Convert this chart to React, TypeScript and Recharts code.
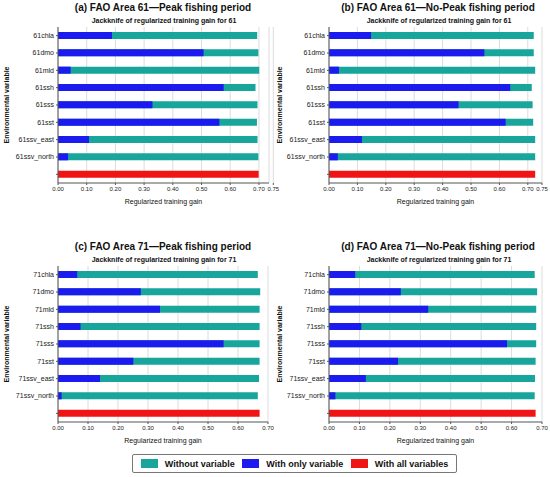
import React from 'react';
import { BarChart, Bar, XAxis, YAxis, CartesianGrid } from 'recharts';

/* ------------------------------------------------------------------ */
/*  Data                                */
/* ------------------------------------------------------------------ */

const VARS_61 = ['61chla', '61dmo', '61mld', '61ssh', '61sss', '61sst', '61ssv_east', '61ssv_north'];
const VARS_71 = ['71chla', '71dmo', '71mld', '71ssh', '71sss', '71sst', '71ssv_east', '71ssv_north'];

const A_WITHOUT = [0.694, 0.698, 0.701, 0.688, 0.695, 0.693, 0.695, 0.698];
const A_ONLY = [0.188, 0.507, 0.044, 0.577, 0.329, 0.562, 0.108, 0.035];
const A_ALL = 0.699;

const B_WITHOUT = [0.721, 0.721, 0.726, 0.714, 0.717, 0.719, 0.726, 0.726];
const B_ONLY = [0.148, 0.547, 0.035, 0.638, 0.456, 0.622, 0.116, 0.031];
const B_ALL = 0.726;

const C_WITHOUT = [0.666, 0.674, 0.672, 0.672, 0.672, 0.672, 0.67, 0.666];
const C_ONLY = [0.064, 0.276, 0.34, 0.075, 0.552, 0.251, 0.14, 0.012];
const C_ALL = 0.672;

const D_WITHOUT = [0.676, 0.684, 0.681, 0.681, 0.681, 0.679, 0.677, 0.676];
const D_ONLY = [0.086, 0.236, 0.326, 0.106, 0.585, 0.227, 0.121, 0.021];
const D_ALL = 0.679;

const TICKS_61 = [0, 0.1, 0.2, 0.3, 0.4, 0.5, 0.6, 0.7, 0.75];
const TICKS_71 = [0, 0.1, 0.2, 0.3, 0.4, 0.5, 0.6, 0.7];

/* ------------------------------------------------------------------ */
/*  Style                                                              */
/* ------------------------------------------------------------------ */

const TEAL = '#17a59c';
const BLUE = '#1b1bef';
const RED = '#f01414';
const FONT = '"Liberation Sans", Arial, sans-serif';

const buildRows = (names: string[], without: number[], only: number[], all: number) => [
  ...names.map((name, i) => ({ name, without: without[i], only: only[i] })),
  { name: '', all },
];

interface PanelProps {
  left: number;
  top: number;
  title: string;
  subtitle: string;
  rows: Record<string, unknown>[];
  domain: [number, number];
  ticks: number[];
  plotLeft: number;
  plotRight: number;
  width?: number;
}

function Panel({ left, top, title, subtitle, rows, domain, ticks, plotLeft, plotRight, width = 275 }: PanelProps) {
  const W = width;
  const H = 210;
  const plotTop = 27;
  const plotBottom = 183;
  const yAxisW = 50;

  const text = (s: string, x: number, y: number, size: number, bold: boolean, rotate = false) => (
    <div
      style={{
        position: 'absolute',
        left: x,
        top: y,
        transform: `translate(-50%, -50%)${rotate ? ' rotate(-90deg)' : ''}`,
        whiteSpace: 'nowrap',
        fontFamily: FONT,
        fontSize: size,
        fontWeight: bold ? 700 : 400,
        color: '#111',
        lineHeight: 1,
      }}
    >
      {s}
    </div>
  );

  return (
    <div style={{ position: 'absolute', left, top, width: W, height: H }}>
      {text(title, 163, 8, 10, true)}
      {text(subtitle, 164, 20, 7, true)}
      {text('Regularized training gain', (plotLeft + plotRight) / 2, 201, 7, false)}
      {text('Environmental variable', plotLeft === 58 ? 6 : 4, 105, 7, true, true)}
      <BarChart
        width={W}
        height={H}
        data={rows}
        layout="vertical"
        barSize={7}
        barGap={-7}
        margin={{ top: plotTop, right: W - plotRight, bottom: H - plotBottom - 20, left: plotLeft - yAxisW }}
      >
        <CartesianGrid horizontal={false} stroke="#dcdcdc" />
        <XAxis
          type="number"
          domain={domain}
          ticks={ticks}
          interval={0}
          allowDataOverflow
          height={20}
          tickSize={2}
          tickFormatter={(v: number) => v.toFixed(2)}
          tick={{ fontSize: 6, fill: '#222', fontFamily: FONT }}
          stroke="#555"
        />
        <XAxis xAxisId="top" orientation="top" type="number" domain={domain} height={0} tick={false} tickLine={false} stroke="#888" />
        <YAxis
          type="category"
          dataKey="name"
          width={yAxisW}
          interval={0}
          tickSize={2}
          tick={{ fontSize: 7, fill: '#222', fontFamily: FONT }}
          stroke="#555"
        />
        <YAxis yAxisId="right" orientation="right" type="category" dataKey="name" width={0} tick={false} tickLine={false} stroke="#888" />
        <Bar dataKey="without" fill={TEAL} isAnimationActive={false} />
        <Bar dataKey="only" fill={BLUE} isAnimationActive={false} />
        <Bar dataKey="all" fill={RED} isAnimationActive={false} />
      </BarChart>
    </div>
  );
}

function LegendBox() {
  const item = (color: string, label: string) => (
    <div style={{ display: 'flex', alignItems: 'center', gap: 7 }}>
      <span style={{ width: 17, height: 9, background: color, display: 'inline-block' }} />
      <span style={{ fontFamily: FONT, fontSize: 9, fontWeight: 700, color: '#111' }}>{label}</span>
    </div>
  );
  return (
    <div
      style={{
        position: 'absolute',
        left: 132,
        top: 454,
        width: 325,
        height: 19,
        border: '1px solid #777',
        borderRadius: 2,
        display: 'flex',
        alignItems: 'center',
        justifyContent: 'space-around',
        padding: '0 4px',
        boxSizing: 'border-box',
      }}
    >
      {item(TEAL, 'Without variable')}
      {item(BLUE, 'With only variable')}
      {item(RED, 'With all variables')}
    </div>
  );
}

export default function App() {
  return (
    <div style={{ position: 'absolute', left: 0, top: 0, width: 550, height: 477, background: '#fff' }}>
      <Panel
        left={0}
        top={0}
        width={284}
        title="(a) FAO Area 61—Peak fishing period"
        subtitle="Jackknife of regularized training gain for 61"
        rows={buildRows(VARS_61, A_WITHOUT, A_ONLY, A_ALL)}
        domain={[0, 0.735]}
        ticks={TICKS_61}
        plotLeft={58}
        plotRight={269}
      />
      <Panel
        left={275}
        top={0}
        title="(b) FAO Area 61—No-Peak fishing period"
        subtitle="Jackknife of regularized training gain for 61"
        rows={buildRows(VARS_61, B_WITHOUT, B_ONLY, B_ALL)}
        domain={[0, 0.75]}
        ticks={TICKS_61}
        plotLeft={54}
        plotRight={267}
      />
      <Panel
        left={0}
        top={239}
        title="(c) FAO Area 71—Peak fishing period"
        subtitle="Jackknife of regularized training gain for 71"
        rows={buildRows(VARS_71, C_WITHOUT, C_ONLY, C_ALL)}
        domain={[0, 0.7]}
        ticks={TICKS_71}
        plotLeft={58}
        plotRight={268}
      />
      <Panel
        left={275}
        top={239}
        title="(d) FAO Area 71—No-Peak fishing period"
        subtitle="Jackknife of regularized training gain for 71"
        rows={buildRows(VARS_71, D_WITHOUT, D_ONLY, D_ALL)}
        domain={[0, 0.7]}
        ticks={TICKS_71}
        plotLeft={54}
        plotRight={267}
      />
      <LegendBox />
    </div>
  );
}
